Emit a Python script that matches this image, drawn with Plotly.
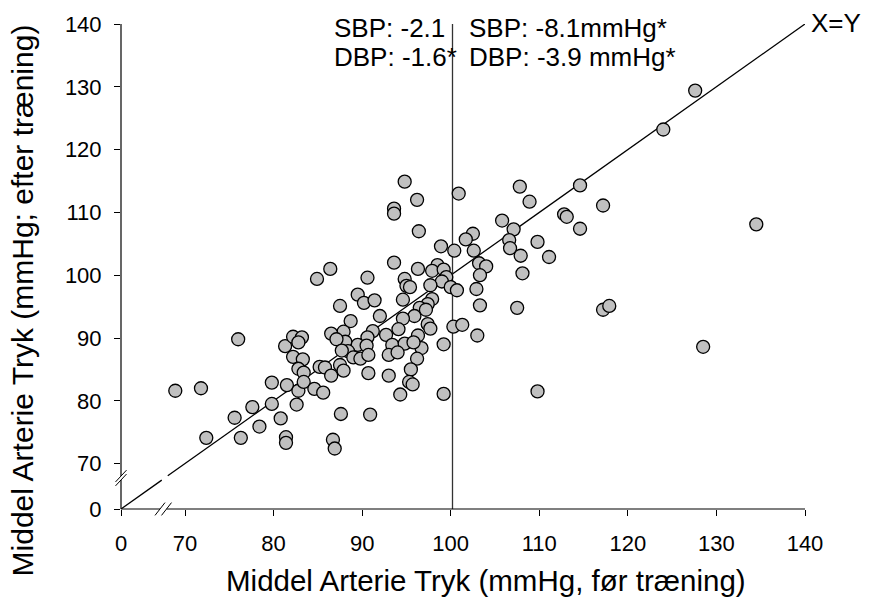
import plotly.graph_objects as go

# ---- data: mean arterial pressure before (x) and after (y) training, mmHg ----
x_before = [127.6, 124.0, 114.6, 117.2, 112.8, 113.1, 114.6, 134.5, 117.2, 117.9, 128.5,
            94.8, 100.9, 107.8, 96.2, 93.6, 93.6, 108.9, 105.8, 107.1, 96.4, 106.6, 106.7,
            102.5, 101.7, 109.8, 111.1, 107.9, 98.9, 100.4, 102.6, 93.6, 96.3, 98.5, 97.9,
            99.2, 103.2, 104.0, 103.3, 108.1, 90.6, 94.8, 95.0, 95.4, 99.5, 99.0, 97.7,
            100.0, 100.7, 102.9, 89.5, 90.2, 91.4, 94.6, 97.9, 97.4, 87.5, 96.5, 97.2,
            92.0, 95.9, 94.6, 103.3, 88.7, 107.5, 91.2, 90.6, 87.9, 88.1, 94.1, 97.4,
            97.7, 100.3, 101.3, 92.7, 96.3, 96.7, 103.0, 89.5, 90.5, 93.4, 94.8, 95.8,
            99.2, 88.4, 89.0, 89.8, 90.7, 93.0, 94.0, 96.2, 87.5, 87.9, 90.7, 93.0, 95.5,
            109.8, 95.3, 95.7, 94.3, 99.2,
            76.0, 68.9, 71.8, 72.4, 76.3, 75.6, 77.6, 78.4, 79.8, 79.8, 80.8, 81.4, 81.4,
            81.5, 82.8, 82.6, 81.3, 82.2, 83.2, 82.8, 82.2, 83.3, 82.8, 83.4, 83.4, 84.6,
            85.6, 85.2, 85.8, 86.5, 87.6, 86.7, 86.9, 84.9, 86.5, 87.1, 87.7, 90.9, 86.4]
y_after = [129.4, 123.2, 114.3, 111.1, 109.7, 109.3, 107.4, 108.1, 94.5, 95.1, 88.6,
           114.9, 113.0, 114.1, 112.0, 110.6, 109.8, 111.7, 108.7, 107.3, 107.0, 105.6, 104.3,
           106.6, 105.7, 105.3, 102.9, 103.1, 104.6, 103.9, 103.9, 102.0, 101.0, 101.6, 100.7,
           100.9, 101.9, 101.4, 100.0, 100.3, 99.6, 99.4, 98.3, 98.1, 99.7, 99.0, 98.4,
           98.1, 97.6, 97.8, 96.9, 95.6, 96.0, 96.1, 96.2, 95.4, 95.1, 94.8, 94.5,
           93.5, 93.5, 93.1, 95.2, 92.7, 94.8, 91.1, 90.1, 91.0, 89.4, 91.4, 92.2,
           91.5, 91.8, 92.1, 90.5, 90.4, 88.4, 90.4, 88.9, 88.8, 88.9, 89.1, 89.3,
           89.0, 87.9, 86.9, 86.7, 87.3, 87.3, 87.7, 86.7, 85.7, 84.8, 84.4, 84.0, 85.0,
           81.5, 83.0, 82.6, 81.0, 81.1,
           89.8, 81.6, 82.0, 74.1, 74.1, 77.3, 79.0, 75.9, 82.9, 79.5, 77.2, 74.2, 73.3,
           82.5, 81.6, 79.4, 88.7, 90.2, 90.1, 89.3, 87.0, 86.6, 85.1, 84.5, 83.0, 81.9,
           81.3, 85.4, 85.3, 84.0, 77.9, 73.8, 72.4, 99.4, 90.7, 89.8, 88.0, 77.8, 101.0]

tick_vals = [70, 80, 90, 100, 110, 120, 130, 140]
tick_text = ["70", "80", "90", "100", "110", "120", "130", "140"]
break_origin = 62.77          # where the "0" of the broken axis sits
identity_x = [break_origin, 67.37, None, 68.05, 140]
identity_y = [break_origin, 67.37, None, 68.05, 140]
ref_x = 100.2
ref_top = 140.3
left_lines = ["SBP: -2.1", "DBP: -1.6*"]
right_lines = ["SBP: -8.1mmHg*", "DBP: -3.9 mmHg*"]

W, H = 875, 600
L, R, T, B = 121, 70, 16, 91
PW, PH = W - L - R, H - T - B

def fx(px):
    return (px - L) / PW

def fy(py):
    return (H - B - py) / PH

FONT = "Liberation Sans, Arial, sans-serif"

fig = go.Figure()

fig.add_trace(go.Scatter(x=identity_x, y=identity_y, mode="lines",
                         line=dict(color="black", width=1.3),
                         hoverinfo="skip", showlegend=False, cliponaxis=False))
fig.add_trace(go.Scatter(x=[ref_x, ref_x], y=[break_origin, ref_top], mode="lines",
                         line=dict(color="#333333", width=1.3),
                         hoverinfo="skip", showlegend=False, cliponaxis=False))
fig.add_trace(go.Scatter(x=x_before, y=y_after, mode="markers",
                         marker=dict(size=13, color="#C0C0C0",
                                     line=dict(color="black", width=1.3)),
                         showlegend=False))

shapes = []
line_style = dict(color="black", width=1.2)
# y axis line with gap
ax = fx(L)
shapes.append(dict(type="line", xref="paper", yref="paper", x0=ax, x1=ax,
                   y0=fy(H - B), y1=fy(479.5), line=line_style))
shapes.append(dict(type="line", xref="paper", yref="paper", x0=ax, x1=ax,
                   y0=fy(475.5), y1=fy(T), line=line_style))
for cy in (475.5, 479.5):
    shapes.append(dict(type="line", xref="paper", yref="paper",
                       x0=fx(L - 5.5), y0=fy(cy + 6), x1=fx(L + 5.5), y1=fy(cy - 6),
                       line=dict(color="black", width=1)))
# x axis line with gap
ay = fy(H - B)
shapes.append(dict(type="line", xref="paper", yref="paper", x0=fx(L), x1=fx(160),
                   y0=ay, y1=ay, line=line_style))
shapes.append(dict(type="line", xref="paper", yref="paper", x0=fx(166.5), x1=fx(W - R),
                   y0=ay, y1=ay, line=line_style))
for cx in (160, 166.5):
    shapes.append(dict(type="line", xref="paper", yref="paper",
                       x0=fx(cx - 5), y0=fy(H - B + 6.5), x1=fx(cx + 5), y1=fy(H - B - 6.5),
                       line=dict(color="black", width=1)))

ann_font = dict(family=FONT, size=26, color="black")
annotations = []
for i, (lt, rt) in enumerate(zip(left_lines, right_lines)):
    yy = fy(20 + 29.5 * i)
    annotations.append(dict(text=lt, xref="paper", yref="paper", x=fx(332), y=yy,
                            xanchor="left", yanchor="middle", showarrow=False, font=ann_font))
    annotations.append(dict(text=rt, xref="paper", yref="paper", x=fx(467), y=yy,
                            xanchor="left", yanchor="middle", showarrow=False, font=ann_font))
annotations += [
    dict(text="X=Y", xref="paper", yref="paper", x=fx(809), y=fy(15),
         xanchor="left", yanchor="middle", showarrow=False, font=ann_font),
    dict(text="Middel Arterie Tryk (mmHg, før træning)", xref="paper", yref="paper",
         x=fx(486), y=fy(582), xanchor="center", yanchor="middle", showarrow=False,
         font=dict(family=FONT, size=29.5, color="black")),
    dict(text="Middel Arterie Tryk (mmHg; efter træning)", xref="paper", yref="paper",
         x=fx(22), y=fy(297), xanchor="center", yanchor="middle", textangle=-90,
         showarrow=False, font=dict(family=FONT, size=30, color="black")),
]

axis_common = dict(
    tickvals=[break_origin] + tick_vals,
    ticktext=["0"] + tick_text,
    ticks="outside", ticklen=6, tickwidth=1.2, tickcolor="black",
    showgrid=False, zeroline=False, showline=False,
    tickfont=dict(family=FONT, size=22, color="black"),
    range=[break_origin, 140],
)

fig.update_layout(
    width=W, height=H,
    margin=dict(l=L, r=R, t=T, b=B),
    paper_bgcolor="white", plot_bgcolor="white",
    xaxis=dict(**axis_common, ticklabelstandoff=9),
    yaxis=dict(**axis_common, ticklabelstandoff=8),
    shapes=shapes,
    annotations=annotations,
    font=dict(family=FONT),
)

fig.write_html("out.html")
